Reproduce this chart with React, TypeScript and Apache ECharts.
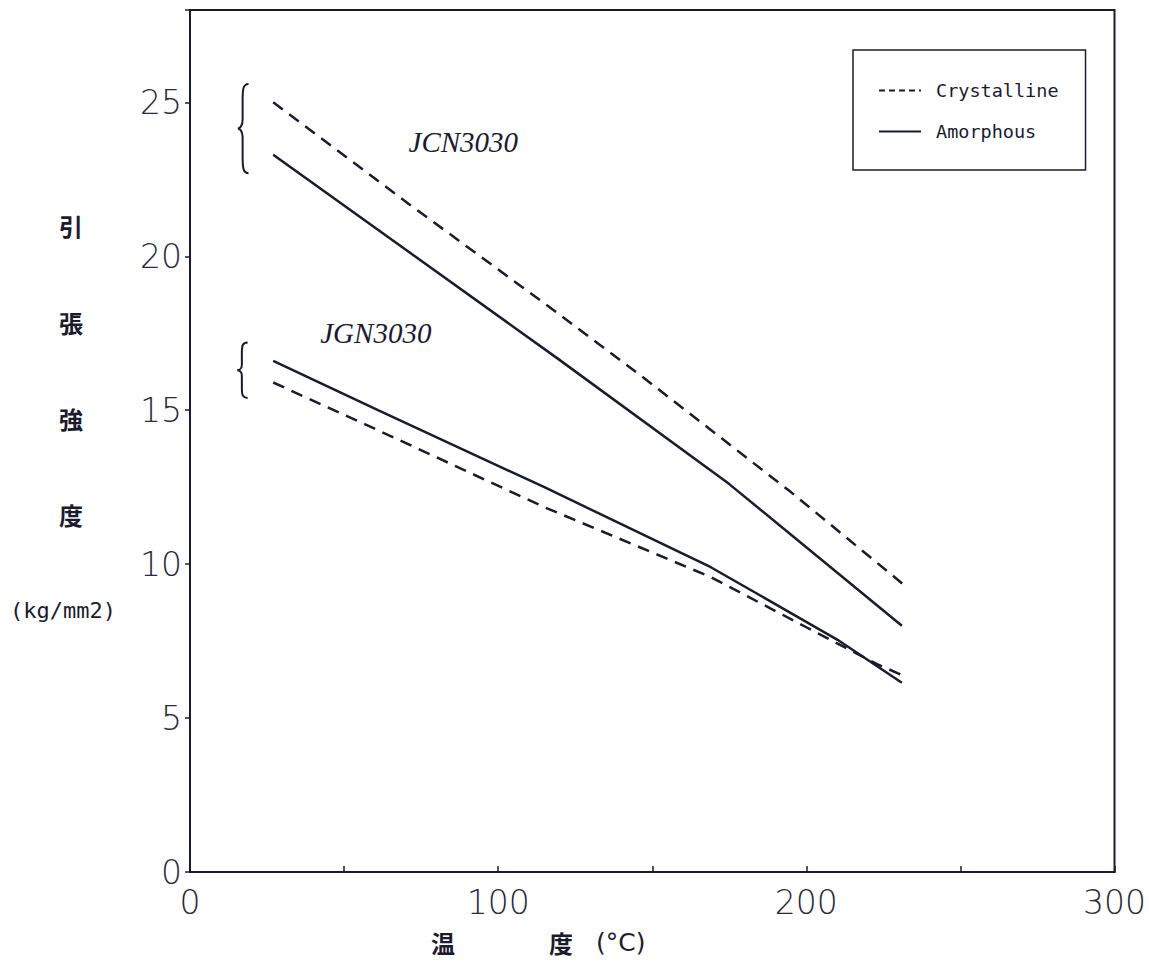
import React, { useEffect, useRef } from "react";
import * as echarts from "echarts";

// ---- data (temperature °C -> tensile strength kg/mm2) ----
const jcnCrystallineTemp = [27, 71, 118, 147, 195, 232];
const jcnCrystallineValue = [25.0, 21.7, 18.25, 16.07, 12.34, 9.3];

const jcnAmorphousTemp = [27, 119, 175, 231];
const jcnAmorphousValue = [23.3, 16.7, 12.6, 8.0];

const jgnAmorphousTemp = [27, 61, 115, 169, 210, 231];
const jgnAmorphousValue = [16.6, 15.0, 12.5, 9.9, 7.55, 6.15];

const jgnCrystallineTemp = [27, 61, 115, 169, 200, 223, 231];
const jgnCrystallineValue = [15.9, 14.35, 11.85, 9.58, 7.95, 6.75, 6.4];

const legendNames = ["Crystalline", "Amorphous"];
const groupLabels = ["JCN3030", "JGN3030"];
// label anchor points in data units [temp, strength]
const groupLabelAt = [
  [88.7, 23.7],
  [60.3, 17.5],
];
// braces: [tipTemp, stemTemp, topValue, bottomValue]
const braces = [
  [15.5, 19, 25.6, 22.7],
  [15.3, 18.7, 17.2, 15.4],
];

const xTicks = { min: 0, max: 300, interval: 50 };
const yTicks = { min: 0, max: 28, interval: 5 };

const INK = "#1b1b2f";
const LABEL = "#2a2a3a";

const pairs = (t: number[], v: number[]) => t.map((x, i) => [x, v[i]]);

const Brace = echarts.graphic.extendShape({
  shape: { x: 0, y1: 0, y2: 0, w: 10 },
  buildPath(ctx: any, s: any) {
    const { x, y1, y2, w } = s;
    const m = (y1 + y2) / 2;
    const h = y2 - y1;
    const sx = x + w * 0.45;
    ctx.moveTo(x + w, y1);
    ctx.bezierCurveTo(x + w * 0.5, y1, sx, y1 + h * 0.06, sx, y1 + h * 0.18);
    ctx.lineTo(sx, m - h * 0.1);
    ctx.bezierCurveTo(sx, m - h * 0.03, x + w * 0.2, m, x, m);
    ctx.bezierCurveTo(x + w * 0.2, m, sx, m + h * 0.03, sx, m + h * 0.1);
    ctx.lineTo(sx, y2 - h * 0.18);
    ctx.bezierCurveTo(sx, y2 - h * 0.06, x + w * 0.5, y2, x + w, y2);
  },
});
echarts.graphic.registerShape("brace", Brace);

export default function App() {
  const ref = useRef<HTMLDivElement>(null);

  useEffect(() => {
    if (!ref.current) return;
    const chart = echarts.init(ref.current, undefined, { renderer: "svg" });

    const dashed = { color: INK, width: 2.5, type: [12, 8] as any };
    const solid = { color: INK, width: 2.5, type: "solid" as any };

    const option: any = {
      animation: false,
      backgroundColor: "#ffffff",
      grid: {
        left: 190,
        right: 29,
        top: 10,
        bottom: 105,
        show: true,
        borderColor: INK,
        borderWidth: 2,
      },
      legend: {
        data: [
          { name: legendNames[0], lineStyle: { type: [6, 4], width: 2 } },
          { name: legendNames[1], lineStyle: { type: "solid", width: 2 } },
        ],
        orient: "vertical",
        left: 853,
        top: 50,
        itemWidth: 42,
        itemHeight: 18,
        itemGap: 22,
        padding: [31, 27, 29, 25],
        borderColor: INK,
        borderWidth: 1.5,
        borderRadius: 0,
        backgroundColor: "#ffffff",
        itemStyle: { opacity: 0 },
        textStyle: {
          fontFamily: "DejaVu Sans Mono",
          fontSize: 18.5,
          color: INK,
          lineHeight: 18,
          padding: [0, 0, 0, 10],
        },
      },
      xAxis: {
        type: "value",
        min: xTicks.min,
        max: xTicks.max,
        interval: xTicks.interval,
        axisLine: { show: true, lineStyle: { color: INK, width: 2 } },
        axisTick: { show: true, inside: true, length: 6, lineStyle: { color: INK, width: 1.5 } },
        splitLine: { show: false },
        axisLabel: {
          margin: 14,
          fontFamily: "DejaVu Sans ExtraLight, DejaVu Sans",
          fontWeight: 200,
          fontSize: 33,
          color: LABEL,
          formatter: (v: number) => (v % 100 === 0 ? String(v) : ""),
        },
      },
      yAxis: {
        type: "value",
        min: yTicks.min,
        max: yTicks.max,
        interval: yTicks.interval,
        axisLine: { show: true, lineStyle: { color: INK, width: 2 } },
        axisTick: { show: true, inside: false, length: 5, lineStyle: { color: INK, width: 1.5 } },
        splitLine: { show: false },
        axisLabel: {
          margin: 8,
          fontFamily: "DejaVu Sans ExtraLight, DejaVu Sans",
          fontWeight: 200,
          fontSize: 33,
          color: LABEL,
          formatter: (v: number) => (v % 5 === 0 ? String(v) : ""),
        },
      },
      series: [
        {
          name: "Crystalline",
          type: "line",
          symbol: "none",
          data: pairs(jcnCrystallineTemp, jcnCrystallineValue),
          lineStyle: dashed,
          itemStyle: { color: INK },
        },
        {
          name: "Amorphous",
          type: "line",
          symbol: "none",
          data: pairs(jcnAmorphousTemp, jcnAmorphousValue),
          lineStyle: solid,
          itemStyle: { color: INK },
        },
        {
          name: "Crystalline",
          type: "line",
          symbol: "none",
          data: pairs(jgnCrystallineTemp, jgnCrystallineValue),
          lineStyle: dashed,
          itemStyle: { color: INK },
        },
        {
          name: "Amorphous",
          type: "line",
          symbol: "none",
          data: pairs(jgnAmorphousTemp, jgnAmorphousValue),
          lineStyle: solid,
          itemStyle: { color: INK },
        },
      ],
    };
    chart.setOption(option);

    const px = (x: number, y: number) => chart.convertToPixel({ gridIndex: 0 }, [x, y]) as number[];

    const graphics: any[] = [];
    // vertical y-axis title
    const yTitle = ["引", "張", "強", "度"];
    const yTitleY = [225, 322, 418, 514];
    yTitle.forEach((c, i) => {
      graphics.push({
        type: "text",
        x: 71,
        y: yTitleY[i],
        style: {
          text: c,
          font: "bold 24px 'Noto Sans CJK JP'",
          fill: INK,
          align: "center",
          verticalAlign: "middle",
        },
      });
    });
    graphics.push({
      type: "text",
      x: 63,
      y: 610,
      style: {
        text: "(kg/mm2)",
        font: "22px 'DejaVu Sans Mono'",
        fill: INK,
        align: "center",
        verticalAlign: "middle",
      },
    });
    // x-axis title
    graphics.push({
      type: "text",
      x: 443,
      y: 942,
      style: {
        text: "温",
        font: "bold 24px 'Noto Sans CJK JP'",
        fill: INK,
        align: "center",
        verticalAlign: "middle",
      },
    });
    graphics.push({
      type: "text",
      x: 561,
      y: 942,
      style: {
        text: "度",
        font: "bold 24px 'Noto Sans CJK JP'",
        fill: INK,
        align: "center",
        verticalAlign: "middle",
      },
    });
    graphics.push({
      type: "text",
      x: 596,
      y: 942,
      style: {
        text: "(°C)",
        font: "25px 'DejaVu Sans'",
        fill: INK,
        align: "left",
        verticalAlign: "middle",
      },
    });
    // group labels
    groupLabels.forEach((t, i) => {
      const p = px(groupLabelAt[i][0], groupLabelAt[i][1]);
      graphics.push({
        type: "text",
        x: p[0],
        y: p[1],
        style: {
          text: t,
          font: "italic 29px 'Liberation Serif'",
          fill: INK,
          align: "center",
          verticalAlign: "middle",
        },
      });
    });
    // braces
    braces.forEach((b) => {
      const tip = px(b[0], b[2]);
      const top = px(b[1], b[2]);
      const bot = px(b[1], b[3]);
      graphics.push({
        type: "brace",
        shape: { x: tip[0], y1: top[1], y2: bot[1], w: top[0] - tip[0] },
        style: { stroke: INK, fill: null, lineWidth: 2 },
      });
    });

    chart.setOption({ graphic: graphics });

    return () => chart.dispose();
  }, []);

  return (
    <div
      ref={ref}
      style={{ position: "fixed", left: 0, top: 0, width: 1149, height: 977, background: "#fff" }}
    />
  );
}
